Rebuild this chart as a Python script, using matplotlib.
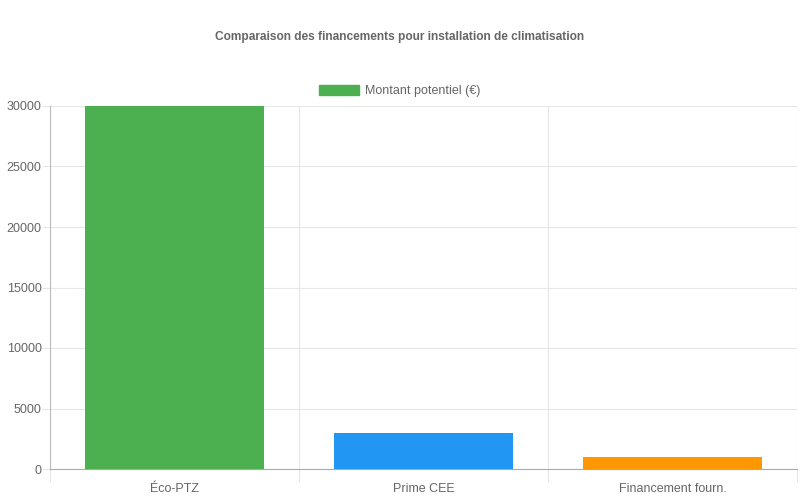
import matplotlib.pyplot as plt
from matplotlib.patches import Patch

# data
categories = ['Éco-PTZ', 'Prime CEE', 'Financement fourn.']
montants = [30000, 3000, 1000]
colors = ['#4CAF50', '#2196F3', '#FF9800']
yticks = [0, 5000, 10000, 15000, 20000, 25000, 30000]

plt.rcParams['font.family'] = ['Liberation Sans', 'DejaVu Sans']
txt = '#666666'
grid = '#e6e6e6'

fig = plt.figure(figsize=(8, 5), dpi=100)
ax = fig.add_axes([50/800, 31/500, 747/800, 363/500])

x = list(range(len(categories)))
ax.bar(x, montants, width=0.72, color=colors, zorder=3)

ax.set_xlim(-0.5, len(categories) - 0.5)
ax.set_ylim(0, 30000)
ax.set_yticks(yticks)
ax.set_yticklabels([str(v) for v in yticks])
ax.set_xticks(x)
ax.set_xticklabels(categories)
ax.set_xticks([i - 0.5 for i in range(len(categories) + 1)], minor=True)

ax.grid(axis='y', color=grid, linewidth=0.8, zorder=0)
ax.grid(axis='x', which='minor', color=grid, linewidth=0.8, zorder=0)
ax.tick_params(axis='x', which='major', length=0, pad=10, labelsize=9, labelcolor=txt)
ax.tick_params(axis='x', which='minor', length=9, color=grid, width=0.8)
ax.tick_params(axis='y', length=6, color=grid, width=0.8, pad=0, labelsize=9, labelcolor=txt)

for s in ['top', 'right']:
    ax.spines[s].set_visible(False)
ax.spines['left'].set_color('#bbbbbb')
ax.spines['bottom'].set_color('#aaaaaa')

fig.text(0.5, 1 - 37/500, 'Comparaison des financements pour installation de climatisation',
         ha='center', va='center', fontsize=8.6, fontweight='bold', color=txt)
fig.legend(handles=[Patch(color=colors[0], label='Montant potentiel (€)')],
           loc='center', bbox_to_anchor=(0.5, 1 - 91/500), frameon=False,
           fontsize=9, labelcolor=txt, handlelength=3.2, handleheight=0.9, handletextpad=0.5)

fig.savefig('out.png', dpi=100)
